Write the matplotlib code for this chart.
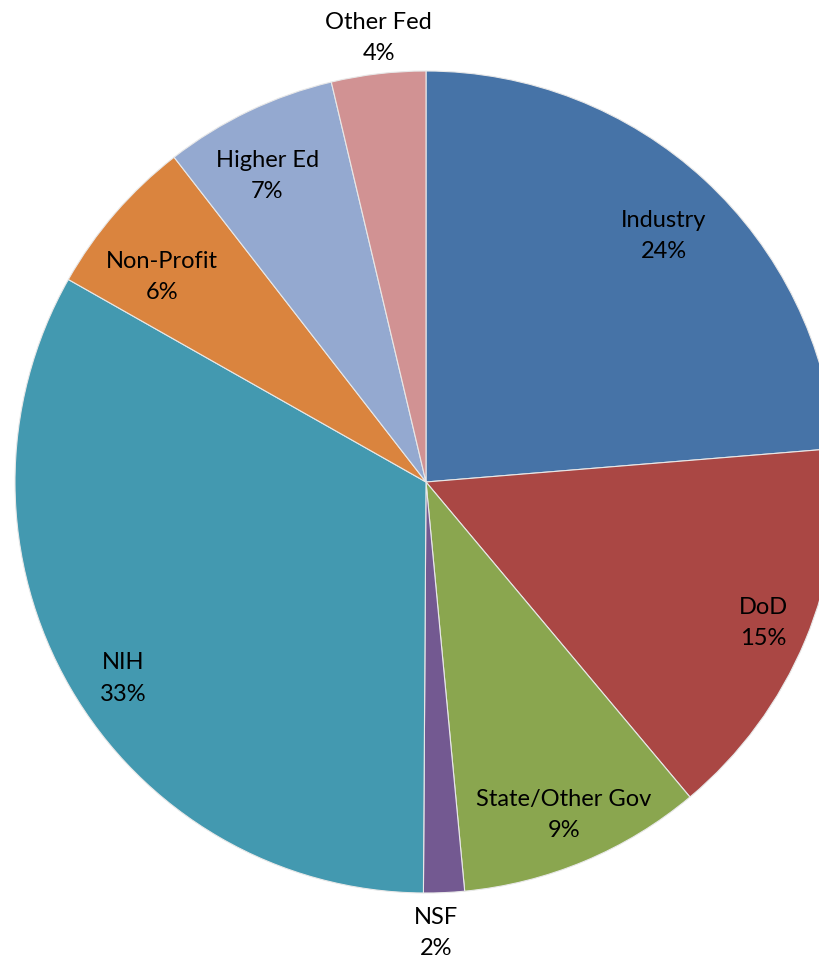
import numpy as np
import matplotlib.pyplot as plt
from matplotlib.transforms import offset_copy

# funding sources, clockwise from 12 o'clock
labels = ["Industry", "DoD", "State/Other Gov", "NSF", "NIH",
          "Non-Profit", "Higher Ed", "Other Fed"]
shares = [23.7, 15.2, 9.6, 1.6, 33.1, 6.3, 6.8, 3.7]
pct_text = ["24%", "15%", "9%", "2%", "33%", "6%", "7%", "4%"]
colors = ["#4673A7", "#AA4744", "#8AA64F", "#735991", "#4399B0",
          "#DA843E", "#94A9D0", "#D19293"]
# label placement: fraction of radius, and small angle nudge in degrees
label_r = [0.838, 0.886, 0.870, 1.09, 0.875, 0.818, 0.845, 1.094]
label_nudge = [1.0, -0.4, 0.0, 1.2, -2.5, -2.7, -1.6, 0.6]

plt.rcParams['font.family'] = ['Lato', 'DejaVu Sans']

W, H = 819, 960
cx, cy, R = 426, 482, 411

fig = plt.figure(figsize=(W / 100, H / 100), dpi=100)
ax = fig.add_axes([0, 0, 1, 1])

ax.pie(shares, colors=colors, startangle=90, counterclock=False,
       radius=1.0, center=(0, 0), frame=True,
       wedgeprops=dict(edgecolor="#e8e8e8", linewidth=0.8))
ax.set_xlim(-cx / R, (W - cx) / R)
ax.set_ylim(-(H - cy) / R, cy / R)
ax.set_aspect('auto')
ax.axis('off')

# nudge text a couple of pixels down
txt_trans = offset_copy(ax.transData, fig=fig, x=0, y=-3, units='dots')

total = sum(shares)
start = 0.0
for lab, s, p, r, nd in zip(labels, shares, pct_text, label_r, label_nudge):
    mid = np.deg2rad((start + s / 2) / total * 360 + nd)
    start += s
    x = r * np.sin(mid)
    y = r * np.cos(mid)
    ax.text(x, y, lab + "\n" + p, ha='center', va='center',
            fontsize=17, linespacing=1.6, color='black',
            transform=txt_trans)

fig.savefig("out.png", dpi=100)
